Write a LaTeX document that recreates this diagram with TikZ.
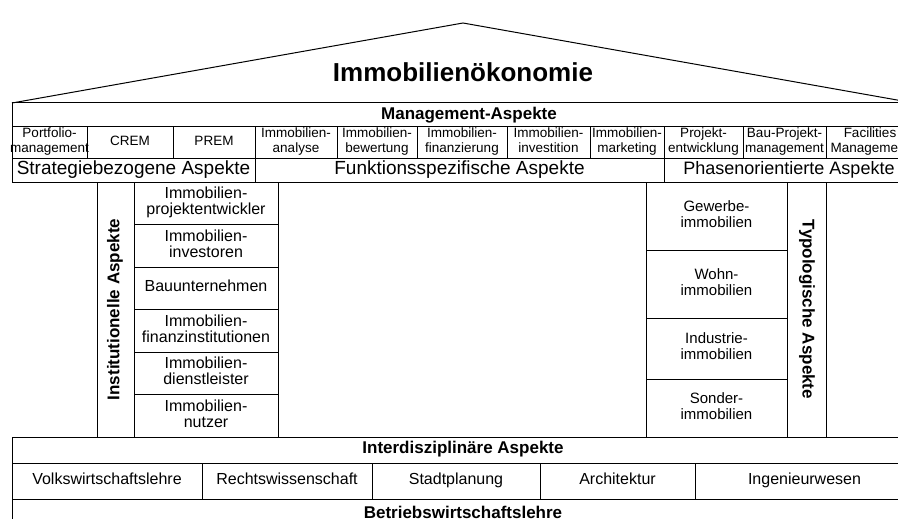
\documentclass[tikz,border=0pt]{standalone}
\usepackage{fontspec}
\setmainfont{Liberation Sans}
\usetikzlibrary{positioning}

\tikzset{
  frame/.style={line width=1pt},
  cell/.style={draw, line width=1pt, inner sep=0pt, align=center,
    execute at begin node=\strut, execute at end node=\strut},
  sz/.style 2 args={minimum width=#1, minimum height=#2},
  titletxt/.style={font=\fontsize{26}{28}\selectfont\bfseries},
  headtxt/.style={font=\fontsize{17}{19}\selectfont\bfseries},
  subtxt/.style={font=\fontsize{13.5}{14.5}\selectfont},
  groupstxt/.style={font=\fontsize{19}{21}\selectfont},
  insttxt/.style={font=\fontsize{16}{16}\selectfont},
  typtxt/.style={font=\fontsize{15}{16}\selectfont},
  disctxt/.style={font=\fontsize{16}{18}\selectfont}
}

\begin{document}
\begin{tikzpicture}[x=1pt,y=-1pt]
\useasboundingbox (0,0) rectangle (898,519);
\path[clip] (0,0) rectangle (898,519);

% Dach
\coordinate (roofL) at (12,103);
\coordinate (apex) at (463,23);
\coordinate (roofR) at (914,103);
\draw[frame] (roofL) -- (apex) -- (roofR);
\node[titletxt](title) at (463,72){Immobilienökonomie};

% Management-Aspekte
\node[cell,sz={902}{24}](mgmt) at (463,115){};
\node[headtxt](mgmtlabel) at (469,115){Management-Aspekte};
\node[cell,sz={75}{31},subtxt,inner xsep=-2pt](pfm) at (49.5,142.5){Portfolio-\\management};
\node[cell,sz={86}{31},subtxt](crem) at (130,142.5){CREM};
\node[cell,sz={82}{31},subtxt](prem) at (214,142.5){PREM};
\node[cell,sz={82}{31},subtxt](ana) at (296,142.5){Immobilien-\\analyse};
\node[cell,sz={80}{31},subtxt](bew) at (377,142.5){Immobilien-\\bewertung};
\node[cell,sz={90}{31},subtxt](fin) at (462,142.5){Immobilien-\\finanzierung};
\node[cell,sz={83}{31},subtxt](inv) at (548.5,142.5){Immobilien-\\investition};
\node[cell,sz={74}{31},subtxt](mkt) at (627,142.5){Immobilien-\\marketing};
\node[cell,sz={79}{31},subtxt](proj) at (703.5,142.5){Projekt-\\entwicklung};
\node[cell,sz={83}{31},subtxt](bau) at (784.5,142.5){Bau-Projekt-\\management};
\node[cell,sz={88}{31},subtxt](fm) at (870,142.5){Facilities\\Management};
\node[cell,sz={243}{24},groupstxt](strat) at (133.5,170){Strategiebezogene Aspekte};
\node[cell,sz={409}{24},groupstxt](funk) at (459.5,170){Funktionsspezifische Aspekte};
\node[cell,sz={250}{24},groupstxt,font=\fontsize{18}{20}\selectfont](phase) at (789,170){Phasenorientierte Aspekte};

% Institutionelle Aspekte
\node[cell,sz={255}{37},headtxt,rotate=90](inst) at (115.5,309.5){Institutionelle Aspekte};
\node[cell,sz={144}{42.5},insttxt](entw) at (206,203.25){Immobilien-\\projektentwickler};
\node[cell,sz={144}{42.5},insttxt](invest) at (206,245.75){Immobilien-\\investoren};
\node[cell,sz={144}{42.5},insttxt](bauu) at (206,288.25){Bauunternehmen};
\node[cell,sz={144}{42.5},insttxt](finanz) at (206,330.75){Immobilien-\\finanzinstitutionen};
\node[cell,sz={144}{42.5},insttxt](dienst) at (206,373.25){Immobilien-\\dienstleister};
\node[cell,sz={144}{42.5},insttxt](nutzer) at (206,415.75){Immobilien-\\nutzer};

% Typologische Aspekte
\node[cell,sz={141}{68},typtxt](gewerbe) at (716.5,216){Gewerbe-\\immobilien};
\node[cell,sz={141}{68},typtxt](wohn) at (716.5,284){Wohn-\\immobilien};
\node[cell,sz={141}{61},typtxt](industrie) at (716.5,348.5){Industrie-\\immobilien};
\node[cell,sz={141}{58},typtxt](sonder) at (716.5,408){Sonder-\\immobilien};
\node[cell,sz={255}{39},headtxt,rotate=-90](typ) at (806.5,309.5){Typologische Aspekte};

% Interdisziplinaere Aspekte
\node[cell,sz={902}{26},headtxt](inter) at (463,450){Interdisziplinäre Aspekte};
\node[cell,sz={190}{36},disctxt](vwl) at (107,481){Volkswirtschaftslehre};
\node[cell,sz={170}{36},disctxt](recht) at (287,481){Rechtswissenschaft};
\node[cell,sz={168}{36},disctxt](stadt) at (456,481){Stadtplanung};
\node[cell,sz={155}{36},disctxt](archi) at (617.5,481){Architektur};
\node[cell,sz={219}{36},disctxt](ing) at (804.5,481){Ingenieurwesen};
\node[cell,sz={902}{32},headtxt](bwl) at (463,515){Betriebswirtschaftslehre};
\end{tikzpicture}
\end{document}
